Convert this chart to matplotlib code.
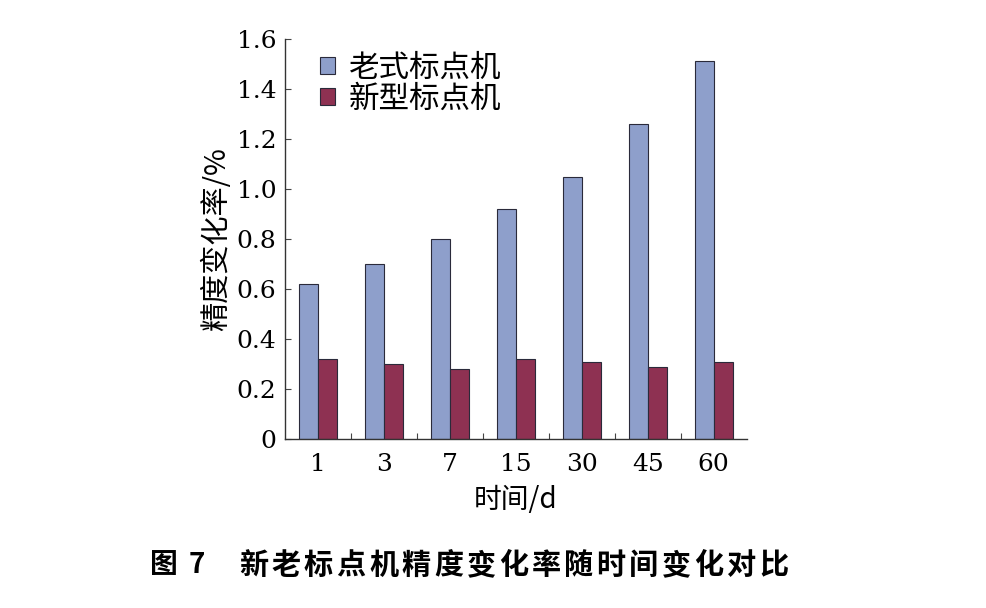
import matplotlib.pyplot as plt
import numpy as np

# --- datos ---
dias = ['1', '3', '7', '15', '30', '45', '60']
viejo = [0.62, 0.70, 0.80, 0.92, 1.05, 1.26, 1.51]
nuevo = [0.32, 0.30, 0.28, 0.32, 0.31, 0.29, 0.31]
serie_labels = ['老式标点机', '新型标点机']
titulo = '新老标点机精度变化率随时间变化对比'

cjk = ['Noto Sans CJK SC', 'DejaVu Sans']
num_font = 'DejaVu Serif'

fig = plt.figure(figsize=(9.86, 6.08), dpi=100)
ax = fig.add_axes([0.2887, 0.2775, 0.4686, 0.6584])

x = np.arange(len(dias))
w = 0.29
ax.bar(x - w / 2, viejo, w, color='#8E9FCB', edgecolor='#2a2a3a', linewidth=0.8,
       label=serie_labels[0])
ax.bar(x + w / 2, nuevo, w, color='#8E3152', edgecolor='#2a2a3a', linewidth=0.8,
       label=serie_labels[1])

ax.set_xlim(-0.5, len(dias) - 0.5)
ax.set_ylim(0, 1.6)
ax.set_yticks(np.arange(0, 1.61, 0.2))
ax.set_yticklabels(['0'] + [f'{v:.1f}' for v in np.arange(0.2, 1.61, 0.2)],
                   fontfamily=num_font, fontsize=18)
ax.set_xticks(x)
ax.set_xticklabels(dias, fontfamily=num_font, fontsize=18)
ax.set_xticks(np.arange(0.5, len(dias) - 0.5, 1), minor=True)
ax.tick_params(axis='x', which='major', length=0, pad=10)
ax.tick_params(axis='x', which='minor', direction='in', length=4, width=0.8, color='#444')
ax.tick_params(axis='y', direction='in', length=4, width=0.8, color='#444', pad=6)

for s in ['top', 'right']:
    ax.spines[s].set_visible(False)
for s in ['left', 'bottom']:
    ax.spines[s].set_color('#333')
    ax.spines[s].set_linewidth(1.0)

ax.set_ylabel('精度变化率/%', fontfamily=cjk, fontsize=21, labelpad=3)
ax.set_xlabel('时间/d', fontfamily=cjk, fontsize=20, labelpad=6)

leg = ax.legend(loc='upper left', bbox_to_anchor=(0.036, 1.012), frameon=False,
                prop={'family': cjk, 'size': 22}, handlelength=0.5, handleheight=0.5,
                handletextpad=0.45, labelspacing=0.0, borderaxespad=0.2)

# pie de figura con espaciado entre caracteres
y_pie = 1 - 565 / 608
fig.text(150 / 986, y_pie, '图', fontfamily=cjk, fontsize=20,
         fontweight='bold', va='center', ha='left')
fig.text(189 / 986, y_pie, '7', fontfamily=cjk, fontsize=20,
         fontweight='bold', va='center', ha='left')
paso = 32.5
for i, ch in enumerate(titulo):
    fig.text((239 + i * paso) / 986, y_pie, ch, fontfamily=cjk, fontsize=21,
             fontweight='bold', va='center', ha='left')

fig.savefig('out.png', dpi=100)
